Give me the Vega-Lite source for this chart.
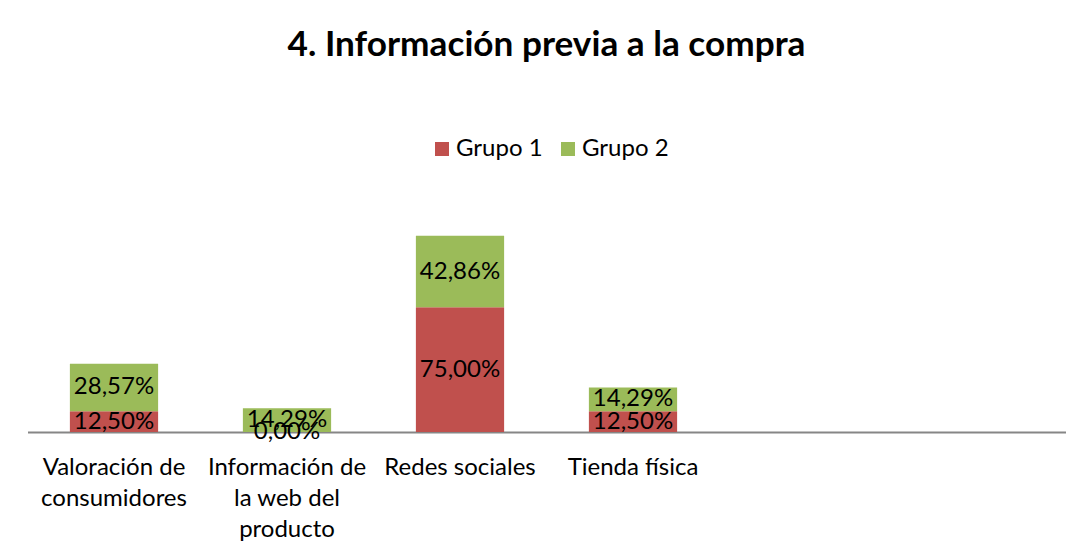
{
  "$schema": "https://vega.github.io/schema/vega-lite/v6.json",
  "autosize": "none",
  "width": 1038,
  "height": 233,
  "padding": {"left": 27.5, "top": 199, "right": 26.5, "bottom": 123},
  "background": "white",
  "config": {
    "view": {"stroke": null},
    "font": "Lato",
    "locale": {"number": {"decimal": ",", "thousands": ".", "grouping": [3], "currency": ["", " €"]}}
  },
  "title": {
    "text": "4. Información previa a la compra",
    "font": "Lato",
    "fontSize": 35.2,
    "fontWeight": "bold",
    "color": "black",
    "anchor": "middle",
    "frame": "group",
    "baseline": "alphabetic",
    "offset": 46
  },
  "data": {
    "values": [
      {"categoria": "Valoración de consumidores", "grupo": "Grupo 1", "valor": 0.125},
      {"categoria": "Valoración de consumidores", "grupo": "Grupo 2", "valor": 0.2857},
      {"categoria": "Información de la web del producto", "grupo": "Grupo 1", "valor": 0.0},
      {"categoria": "Información de la web del producto", "grupo": "Grupo 2", "valor": 0.1429},
      {"categoria": "Redes sociales", "grupo": "Grupo 1", "valor": 0.75},
      {"categoria": "Redes sociales", "grupo": "Grupo 2", "valor": 0.4286},
      {"categoria": "Tienda física", "grupo": "Grupo 1", "valor": 0.125},
      {"categoria": "Tienda física", "grupo": "Grupo 2", "valor": 0.1429}
    ]
  },
  "encoding": {
    "x": {
      "field": "categoria",
      "type": "nominal",
      "scale": {
        "domain": ["Valoración de consumidores", "Información de la web del producto", "Redes sociales", "Tienda física", " ", "  "],
        "paddingInner": 0.49,
        "paddingOuter": 0.245
      },
      "axis": {
        "title": null,
        "ticks": false,
        "labelAngle": 0,
        "labelFont": "Lato",
        "labelFontSize": 24,
        "labelColor": "black",
        "labelPadding": 23,
        "labelLineHeight": 31,
        "labelLimit": 0,
        "labelOverlap": false,
        "labelBaseline": "top",
        "domainColor": "#868686",
        "domainWidth": 2,
        "labelExpr": "datum.value == 'Valoración de consumidores' ? ['Valoración de', 'consumidores'] : datum.value == 'Información de la web del producto' ? ['Información de', 'la web del', 'producto'] : datum.value"
      }
    },
    "y": {
      "field": "valor",
      "type": "quantitative",
      "stack": "zero",
      "scale": {"domain": [0, 1.4], "nice": false},
      "axis": null
    },
    "order": {"field": "grupo", "sort": "ascending"}
  },
  "layer": [
    {
      "mark": {"type": "bar"},
      "encoding": {
        "color": {
          "field": "grupo",
          "type": "nominal",
          "scale": {"domain": ["Grupo 1", "Grupo 2"], "range": ["#C0504D", "#9BBB59"]},
          "legend": {
            "title": null,
            "orient": "none",
            "direction": "horizontal",
            "legendX": 402.5,
            "legendY": -62,
            "symbolType": "square",
            "symbolSize": 196,
            "symbolStrokeWidth": 0,
            "labelFont": "Lato",
            "labelFontSize": 24,
            "labelColor": "black",
            "labelOffset": 2,
            "columnPadding": 13
          }
        }
      }
    },
    {
      "mark": {"type": "text", "fontSize": 24, "font": "Lato", "color": "black", "baseline": "middle", "align": "center"},
      "encoding": {
        "y": {"field": "valor", "type": "quantitative", "stack": "zero", "bandPosition": 0.5},
        "detail": {"field": "grupo"},
        "text": {"field": "valor", "type": "quantitative", "format": ".2%"}
      }
    }
  ]
}
